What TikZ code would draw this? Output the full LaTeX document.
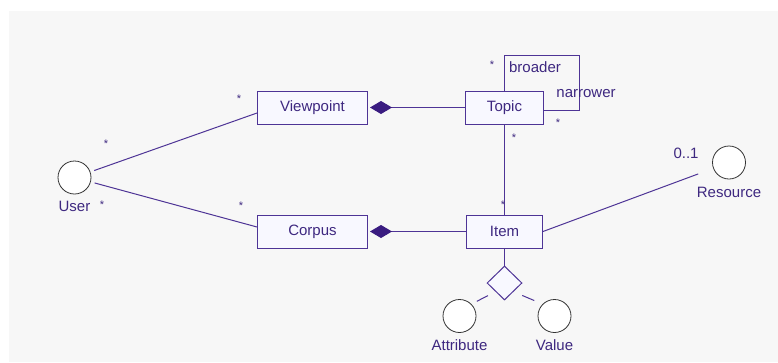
\documentclass[tikz,border=0pt]{standalone}
\usepackage{fontspec}
\setmainfont{Liberation Sans}
\usetikzlibrary{positioning, arrows.meta, shapes.geometric}

\definecolor{umlline}{RGB}{78,52,150}
\definecolor{umltext}{RGB}{62,40,128}
\definecolor{umldark}{RGB}{58,28,128}
\definecolor{boxfill}{RGB}{248,248,255}
\definecolor{paper}{RGB}{247,247,247}

\begin{document}
\begin{tikzpicture}[
    x=1pt, y=-1pt,
    font=\fontsize{15}{17}\selectfont,
    classbox/.style={draw=umlline, fill=boxfill, line width=1pt, minimum height=33pt,
                     inner sep=0pt, text=umltext},
    actor/.style={draw=black!80, fill=white, circle, minimum size=33pt, inner sep=0pt,
                  line width=0.8pt},
    qualbox/.style={draw=umlline, fill=boxfill, diamond, minimum width=35pt,
                    minimum height=34pt, inner sep=0pt, line width=1pt},
    lbl/.style={text=umltext, inner sep=0pt},
    mult/.style={text=umltext, font=\fontsize{11}{11}\selectfont, inner sep=0pt},
    assoc/.style={draw=umlline, line width=1pt},
    comp/.style={assoc, -{Diamond[length=22pt, width=13pt, color=umldark]}, shorten >=2pt},
]
% --- Background ---
\fill[white] (0,0) rectangle (778,362);
\fill[paper] (9,11) rectangle (778,362);

% --- Actors ---
\node[actor] (user) at (74.5,177.5) {};
\node[lbl, below=7pt of user] (user_lbl) {User};

\node[actor] (resource) at (729,162.5) {};
\node[lbl, below=8pt of resource] (resource_lbl) {Resource};

% --- Classes ---
\node[classbox, minimum width=110pt] (viewpoint) at (312.5,107.5) {Viewpoint};
\node[classbox, minimum width=110pt, below=90pt of viewpoint] (corpus) {Corpus};
\node[classbox, minimum width=78pt, right=97pt of viewpoint] (topic) {Topic};
\node[classbox, minimum width=76pt, below=90pt of topic] (item) {Item};

% Attribute / value pair under the item
\node[qualbox, below=17pt of item] (pair) {};
\node[actor] (attribute) at (459.5,316) {};
\node[lbl, below=7pt of attribute] (attribute_lbl) {Attribute};
\node[actor] (value) at (554.5,316) {};
\node[lbl, below=7pt of value] (value_lbl) {Value};

% --- Connectors ---
\draw[assoc, shorten <=4pt] (user) -- ([yshift=-5.5pt]viewpoint.west);
\draw[assoc, shorten <=4pt] (user) -- ([yshift=4.5pt]corpus.west);
\draw[comp] (topic.west) -- (viewpoint.east);
\draw[comp] (item.west) -- (corpus.east);
\draw[assoc] (topic) -- (item);
\draw[assoc] (topic.north) |- (579,55) |- ([yshift=-2.5pt]topic.east);
\draw[assoc, shorten >=16pt] (item.east) -- (resource);
\draw[assoc] (item) -- (pair);
\draw[assoc, shorten <=8.5pt, shorten >=6pt] (pair.south west) -- (attribute.north east);
\draw[assoc, shorten <=9.5pt, shorten >=9pt] (pair.south east) -- (value.north west);

% --- Role names and multiplicities ---
\node[lbl] (broader) at (535,67.5) {broader};
\node[lbl] (narrower) at (586,94) {narrower};
\node[lbl] (res_mult) at (686,153) {0..1};
\node[mult] (m1) at (106,144) {*};
\node[mult] (m2) at (239,99) {*};
\node[mult] (m3) at (102,205) {*};
\node[mult] (m4) at (241,206) {*};
\node[mult] (m5) at (492,65) {*};
\node[mult] (m6) at (558,123) {*};
\node[mult] (m7) at (514,138) {*};
\node[mult] (m8) at (503,205) {*};
\end{tikzpicture}
\end{document}
